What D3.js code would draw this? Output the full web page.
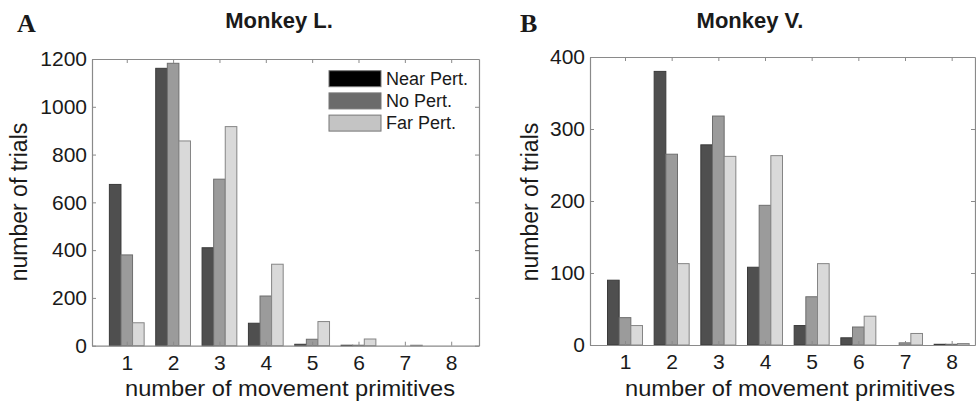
<!DOCTYPE html>
<html><head><meta charset="utf-8">
<script src="https://cdnjs.cloudflare.com/ajax/libs/d3/7.8.5/d3.min.js"></script>
<style>
html,body{margin:0;padding:0;background:#fff;}
svg{display:block;font-family:"Liberation Sans",Arial,sans-serif;}
</style></head>
<body>
<svg id="chart" width="976" height="401"></svg>
<script>
// ---- data ----
const categories = [1, 2, 3, 4, 5, 6, 7, 8];
const seriesNames = ["Near Pert.", "No Pert.", "Far Pert."];
const monkeyL_near = [675, 1161, 410, 94, 6, 2, 0, 0];
const monkeyL_no   = [380, 1182, 697, 208, 27, 2, 0, 0];
const monkeyL_far  = [96, 857, 917, 341, 101, 28, 2, 0];
const monkeyV_near = [90, 380, 278, 108, 27, 10, 0, 1];
const monkeyV_no   = [38, 265, 318, 194, 67, 25, 3, 1];
const monkeyV_far  = [27, 113, 262, 263, 113, 40, 16, 2];
const yTicksL = [0, 200, 400, 600, 800, 1000, 1200];
const yTicksV = [0, 100, 200, 300, 400];
const titles = ["Monkey L.", "Monkey V."];
const panelLetters = ["A", "B"];
const xLabel = "number of movement primitives";
const yLabel = "number of trials";

// ---- styles ----
const barFill = ["#4f4f4f", "#9b9b9b", "#d9d9d9"];
const barStroke = ["#3a3a3a", "#6e6e6e", "#858585"];
const legendFill = ["#000000", "#6b6b6b", "#c4c4c4"];
const axisColor = "#8a8a8a";
const textColor = "#1a1a1a";

const svg = d3.select("#chart");

const panels = [
  {series: [monkeyL_near, monkeyL_no, monkeyL_far], yTicks: yTicksL, yMax: 1200,
   xDom: [0.25, 8.6], xr: [92, 479], yr: [345.7, 59],
   title: titles[0], titleX: 279, letter: panelLetters[0], letterX: 17,
   yLabX: 27, xLabX: 290, legend: true},
  {series: [monkeyV_near, monkeyV_no, monkeyV_far], yTicks: yTicksV, yMax: 400,
   xDom: [0.25, 8.5], xr: [590, 975], yr: [345, 57],
   title: titles[1], titleX: 750, letter: panelLetters[1], letterX: 520,
   yLabX: 538, xLabX: 790, legend: false}
];

const bw = 0.25;

panels.forEach(p => {
  const x = d3.scaleLinear().domain(p.xDom).range(p.xr);
  const y = d3.scaleLinear().domain([0, p.yMax]).range(p.yr);
  const g = svg.append("g");

  // bars
  p.series.forEach((vals, si) => {
    g.append("g").selectAll("rect").data(categories).join("rect")
      .attr("x", c => x(c + (si - 1) * bw - bw / 2))
      .attr("width", c => x(c + bw / 2) - x(c - bw / 2))
      .attr("y", (c, i) => y(vals[i]))
      .attr("height", (c, i) => y(0) - y(vals[i]))
      .attr("fill", barFill[si])
      .attr("stroke", barStroke[si])
      .attr("stroke-width", 1);
  });

  // axes (MATLAB-style box with inward ticks)
  const fs = "21px";
  const xb = g.append("g").attr("transform", `translate(0,${p.yr[0]})`)
    .call(d3.axisBottom(x).tickValues(categories).tickSizeInner(-4).tickSizeOuter(0).tickPadding(9.5).tickFormat(d3.format("d")));
  const xt = g.append("g").attr("transform", `translate(0,${p.yr[1]})`)
    .call(d3.axisTop(x).tickValues(categories).tickSizeInner(-4).tickSizeOuter(0).tickFormat(""));
  const yl = g.append("g").attr("transform", `translate(${p.xr[0]},0)`)
    .call(d3.axisLeft(y).tickValues(p.yTicks).tickSizeInner(-4).tickSizeOuter(0).tickPadding(5).tickFormat(d3.format("d")));
  const yrAx = g.append("g").attr("transform", `translate(${p.xr[1]},0)`)
    .call(d3.axisRight(y).tickValues(p.yTicks).tickSizeInner(-4).tickSizeOuter(0).tickFormat(""));
  [xb, xt, yl, yrAx].forEach(a => {
    a.select(".domain").attr("stroke", axisColor).attr("stroke-width", 1.2);
    a.selectAll(".tick line").attr("stroke", axisColor);
    a.selectAll(".tick text").attr("fill", textColor)
      .style("font-size", fs).style("font-family", "'Liberation Sans', Arial, sans-serif");
  });

  // title
  svg.append("text").attr("x", p.titleX).attr("y", 28).attr("text-anchor", "middle")
    .style("font-weight", "bold").style("font-size", "22px").attr("fill", textColor).text(p.title);
  // panel letter
  svg.append("text").attr("x", p.letterX).attr("y", 32)
    .style("font-family", "'Liberation Serif', 'Times New Roman', serif")
    .style("font-weight", "bold").style("font-size", "26px").attr("fill", textColor).text(p.letter);
  // x label
  svg.append("text").attr("x", p.xLabX).attr("y", 395.5).attr("text-anchor", "middle")
    .attr("textLength", 330).attr("lengthAdjust", "spacingAndGlyphs")
    .style("font-size", "22px").attr("fill", textColor).text(xLabel);
  // y label
  svg.append("text").attr("transform", `translate(${p.yLabX},202) rotate(-90)`)
    .attr("text-anchor", "middle").style("font-size", "23px").attr("fill", textColor).text(yLabel);

  // legend
  if (p.legend) {
    const lg = svg.append("g");
    const rows = lg.selectAll("g").data(seriesNames).join("g")
      .attr("transform", (d, i) => `translate(329,${70.7 + i * 22.2})`);
    rows.append("rect").attr("width", 52).attr("height", 16)
      .attr("fill", (d, i) => legendFill[i]).attr("stroke", "#777").attr("stroke-width", 1);
    rows.append("text").attr("x", 57).attr("y", 8).attr("dy", "0.35em")
      .style("font-size", "18px").attr("fill", textColor).text(d => d);
  }
});
</script>
</body></html>
